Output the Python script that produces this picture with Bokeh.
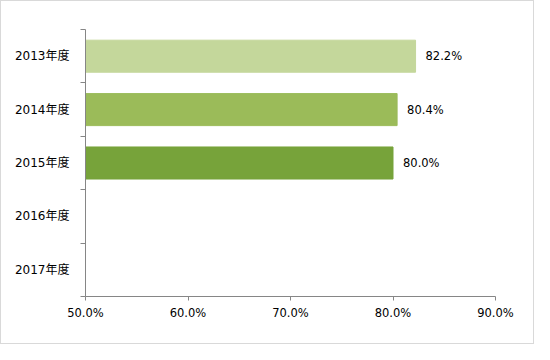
from bokeh.plotting import figure
from bokeh.models import Range1d, FixedTicker, NumeralTickFormatter, ColumnDataSource, LabelSet
from bokeh.core.properties import value
from bokeh.embed import file_html
from bokeh.resources import INLINE

categories = ["2013年度", "2014年度", "2015年度", "2016年度", "2017年度"]
bar_categories = ["2013年度", "2014年度", "2015年度"]
values = [0.822, 0.804, 0.800]
value_labels = ["82.2%", "80.4%", "80.0%"]
colors = ["#C4D79B", "#9BBB59", "#77A33A"]
x_ticks = [0.5, 0.6, 0.7, 0.8, 0.9]

n = len(categories)
pos = {c: n - 0.5 - i for i, c in enumerate(categories)}

src = ColumnDataSource(dict(
    y=[pos[c] for c in bar_categories],
    right=values,
    color=colors,
    label=value_labels,
))

p = figure(width=534, height=344, output_backend="svg", toolbar_location=None,
           x_range=Range1d(x_ticks[0], x_ticks[-1]), y_range=Range1d(0, n),
           min_border_left=84, min_border_right=40, min_border_top=28, min_border_bottom=49)
p.outline_line_color = None
p.xgrid.grid_line_color = None
p.ygrid.grid_line_color = None

p.hbar(y="y", left=x_ticks[0], right="right", height=0.6, color="color", source=src)

labels = LabelSet(x="right", y="y", text="label", source=src, x_offset=10, y_offset=0,
                  text_baseline="middle", text_font=value("DejaVu Sans"),
                  text_font_size=value("11.5px"), text_color="#000000")
p.add_layout(labels)

axis_color = "#868686"
# x axis
p.xaxis.ticker = FixedTicker(ticks=x_ticks)
p.xaxis.formatter = NumeralTickFormatter(format="0.0%")
p.xaxis.axis_line_color = axis_color
p.xaxis.major_tick_line_color = axis_color
p.xaxis.major_tick_in = 0
p.xaxis.major_tick_out = 4
p.xaxis.minor_tick_line_color = None
p.xaxis.major_label_standoff = 5
p.xaxis.major_label_text_font = "DejaVu Sans"
p.xaxis.major_label_text_font_size = "11.5px"
p.xaxis.major_label_text_color = "#000000"

# y axis: labels at category centers, ticks at boundaries
p.yaxis.ticker = FixedTicker(ticks=[pos[c] for c in categories], minor_ticks=list(range(n + 1)))
p.yaxis.major_label_overrides = {pos[c]: c for c in categories}
p.yaxis.axis_line_color = axis_color
p.yaxis.major_tick_line_color = None
p.yaxis.minor_tick_line_color = axis_color
p.yaxis.minor_tick_in = 0
p.yaxis.minor_tick_out = 5
p.yaxis.major_label_standoff = 10
p.yaxis.major_label_text_font = "DejaVu Sans, Noto Sans CJK SC"
p.yaxis.major_label_text_font_size = "12px"
p.yaxis.major_label_text_color = "#000000"

p.styles = {"border": "1px solid #D9D9D9"}

open("out.html", "w").write(file_html(p, INLINE))
